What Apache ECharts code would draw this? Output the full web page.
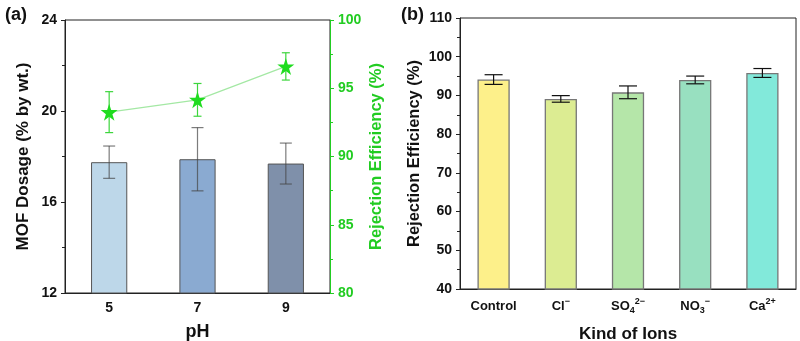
<!DOCTYPE html>
<html>
<head>
<meta charset="utf-8" />
<title>MOF dosage and rejection efficiency</title>
<script src="https://cdn.jsdelivr.net/npm/echarts@6/dist/echarts.min.js"></script>
<style>
    body { margin: 0; background: #fff; }
    #chart { width: 800px; height: 341px; }
</style>
</head>
<body>
<div id="chart"></div>
<script type="text/javascript">
    // panel (a) data
    var phCats = ['5', '7', '9'];
    var dosage = [17.75, 17.88, 17.69];
    var dosageErr = [0.71, 1.39, 0.9];
    var rejPH = [93.25, 94.15, 96.6];
    var rejPHErr = [1.5, 1.2, 1.0];
    var phColors = ['#bdd7e9', '#8aaad1', '#7f90aa'];

    // panel (b) data
    var ionCats = ['Control', 'Cl', 'SO4', 'NO3', 'Ca'];
    var ionRej = [94.1, 89.1, 90.8, 94.0, 95.8];
    var ionErr = [1.25, 0.85, 1.65, 1.0, 1.15];
    var ionColors = ['#fdf08a', '#dcec92', '#b5e6a9', '#98e0c0', '#82e9da'];

    var FONT = 'Liberation Sans';
    var GREEN = '#22cc22';

    // 误差棒数据 [index, low, high]
    function errData(vals, errs) {
        var out = [];
        for (var i = 0; i < vals.length; i++) {
            out.push([i, vals[i] - errs[i], vals[i] + errs[i]]);
        }
        return out;
    }

    function errRender(capW, color, opacity) {
        return function (params, api) {
            var x = api.value(0);
            var top = api.coord([x, api.value(2)]);
            var bot = api.coord([x, api.value(1)]);
            var st = { stroke: color, lineWidth: 1.2, opacity: opacity };
            return {
                type: 'group',
                children: [
                    { type: 'line', shape: { x1: top[0], y1: top[1], x2: bot[0], y2: bot[1] }, style: st },
                    { type: 'line', shape: { x1: top[0] - capW / 2, y1: top[1], x2: top[0] + capW / 2, y2: top[1] }, style: st },
                    { type: 'line', shape: { x1: bot[0] - capW / 2, y1: bot[1], x2: bot[0] + capW / 2, y2: bot[1] }, style: st }
                ]
            };
        };
    }

    var tickLabel = { color: '#111', fontFamily: FONT, fontWeight: 'bold', fontSize: 14 };
    var nameStyle = { color: '#111', fontFamily: FONT, fontWeight: 'bold', fontSize: 17 };

    var ionLabels = {
        Control: '{n|Control}',
        Cl: '{n|Cl}{sup|−}',
        SO4: '{n|SO}{sub|4}{sup|2−}',
        NO3: '{n|NO}{sub|3}{sup|−}',
        Ca: '{n|Ca}{sup|2+}'
    };

    var myChart = echarts.init(document.getElementById('chart'));
    var option = {
        animation: false,
        title: [
            { text: '(a)', left: 0, top: 1, textStyle: { fontFamily: FONT, fontWeight: 'bold', fontSize: 18, color: '#111' } },
            { text: '(b)', left: 396, top: 1, textStyle: { fontFamily: FONT, fontWeight: 'bold', fontSize: 18, color: '#111' } }
        ],
        grid: [
            { left: 65, right: 470, top: 20, bottom: 48, outerBoundsMode: 'none', show: true, borderColor: '#222', borderWidth: 1 },
            { left: 460, right: 4, top: 18, bottom: 52, outerBoundsMode: 'none', show: true, borderColor: '#222', borderWidth: 1 }
        ],
        xAxis: [
            {
                gridIndex: 0, type: 'category', data: phCats,
                name: 'pH', nameLocation: 'middle', nameGap: 30,
                nameTextStyle: { color: '#111', fontFamily: FONT, fontWeight: 'bold', fontSize: 18 },
                axisLine: { lineStyle: { color: '#222' } },
                axisTick: { alignWithLabel: true, length: 4, lineStyle: { color: '#222' } },
                axisLabel: { color: '#111', fontFamily: FONT, fontWeight: 'bold', fontSize: 14, margin: 8 }
            },
            {
                gridIndex: 1, type: 'category', data: ionCats,
                name: 'Kind of Ions', nameLocation: 'middle', nameGap: 37,
                nameTextStyle: { color: '#111', fontFamily: FONT, fontWeight: 'bold', fontSize: 17 },
                axisLine: { lineStyle: { color: '#222' } },
                axisTick: { alignWithLabel: true, length: 4, lineStyle: { color: '#222' } },
                axisLabel: {
                    margin: 8, interval: 0,
                    formatter: function (v) { return ionLabels[v]; },
                    rich: {
                        n: { color: '#111', fontFamily: FONT, fontWeight: 'bold', fontSize: 13, lineHeight: 18 },
                        sub: { color: '#111', fontFamily: FONT, fontWeight: 'bold', fontSize: 9, verticalAlign: 'bottom', lineHeight: 18 },
                        sup: { color: '#111', fontFamily: FONT, fontWeight: 'bold', fontSize: 9, verticalAlign: 'top', lineHeight: 18 }
                    }
                }
            }
        ],
        yAxis: [
            {
                gridIndex: 0, type: 'value', min: 12, max: 24, interval: 4,
                name: 'MOF Dosage (% by wt.)', nameLocation: 'middle', nameGap: 33,
                nameTextStyle: nameStyle,
                axisLine: { show: true, lineStyle: { color: '#222' } },
                axisTick: { show: true, length: 4, lineStyle: { color: '#222' } },
                minorTick: { show: true, splitNumber: 2, length: 3, lineStyle: { color: '#222' } },
                splitLine: { show: false },
                axisLabel: tickLabel
            },
            {
                gridIndex: 0, type: 'value', position: 'right', min: 80, max: 100, interval: 5,
                name: 'Rejection Efficiency (%)', nameLocation: 'middle', nameGap: 38, nameRotate: 90,
                nameTextStyle: { color: GREEN, fontFamily: FONT, fontWeight: 'bold', fontSize: 16.5 },
                axisLine: { show: true, lineStyle: { color: GREEN } },
                axisTick: { show: true, length: 4, lineStyle: { color: GREEN } },
                minorTick: { show: true, splitNumber: 2, length: 3, lineStyle: { color: GREEN } },
                splitLine: { show: false },
                axisLabel: { color: GREEN, fontFamily: FONT, fontWeight: 'bold', fontSize: 14 }
            },
            {
                gridIndex: 1, type: 'value', min: 40, max: 110, interval: 10,
                name: 'Rejection Efficiency (%)', nameLocation: 'middle', nameGap: 37,
                nameTextStyle: { color: '#111', fontFamily: FONT, fontWeight: 'bold', fontSize: 16.5 },
                axisLine: { show: true, lineStyle: { color: '#222' } },
                axisTick: { show: true, length: 4, lineStyle: { color: '#222' } },
                minorTick: { show: true, splitNumber: 2, length: 3, lineStyle: { color: '#222' } },
                splitLine: { show: false },
                axisLabel: tickLabel
            }
        ],
        series: [
            {
                type: 'bar', xAxisIndex: 0, yAxisIndex: 0, barWidth: '41%',
                data: dosage.map(function (v, i) {
                    return { value: v, itemStyle: { color: phColors[i] } };
                }),
                itemStyle: { borderColor: '#555', borderWidth: 1 }
            },
            {
                type: 'custom', xAxisIndex: 0, yAxisIndex: 0,
                renderItem: errRender(12, '#444', 0.7),
                encode: { x: 0, y: [1, 2] },
                data: errData(dosage, dosageErr), z: 5
            },
            {
                type: 'line', xAxisIndex: 0, yAxisIndex: 1,
                data: rejPH, symbol: 'path://M50,0 L61.8,36.2 L100,36.2 L69.1,58.8 L80.9,95.1 L50,72.7 L19.1,95.1 L30.9,58.8 L0,36.2 L38.2,36.2 Z',
                symbolSize: 17,
                lineStyle: { color: '#a4e8a4', width: 1.2 },
                itemStyle: { color: '#1fdc1f' }, z: 6
            },
            {
                type: 'custom', xAxisIndex: 0, yAxisIndex: 1,
                renderItem: errRender(8, '#3dd63d', 1),
                encode: { x: 0, y: [1, 2] },
                data: errData(rejPH, rejPHErr), z: 5
            },
            {
                type: 'bar', xAxisIndex: 1, yAxisIndex: 2, barWidth: '48%',
                data: ionRej.map(function (v, i) {
                    return { value: v, itemStyle: { color: ionColors[i] } };
                }),
                itemStyle: { borderColor: '#777', borderWidth: 1.3 }
            },
            {
                type: 'custom', xAxisIndex: 1, yAxisIndex: 2,
                renderItem: errRender(18, '#111', 1),
                encode: { x: 0, y: [1, 2] },
                data: errData(ionRej, ionErr), z: 5
            }
        ]
    };
    myChart.setOption(option);
</script>
</body>
</html>
